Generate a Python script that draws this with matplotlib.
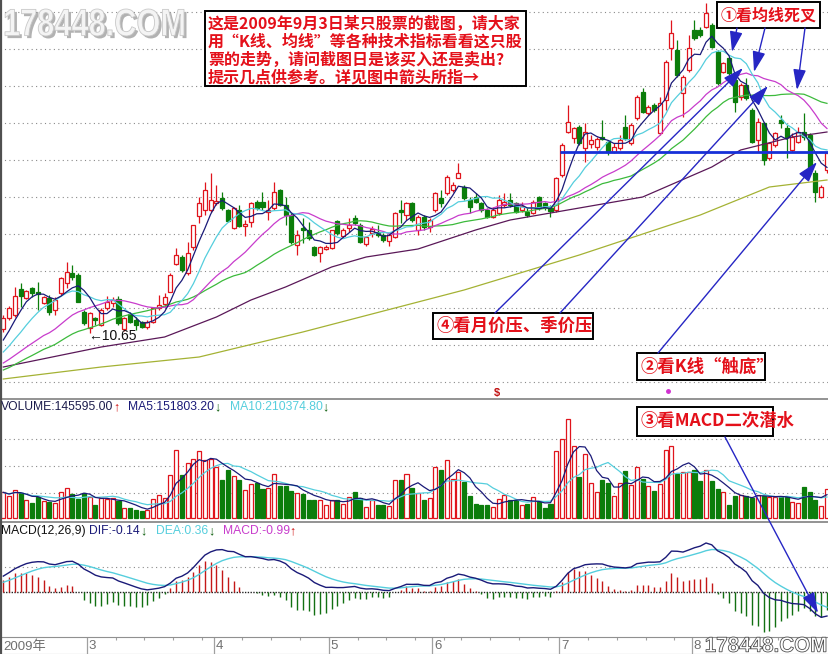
import numpy as np
import pandas as pd
import matplotlib
matplotlib.use('Agg')
import matplotlib.pyplot as plt
from matplotlib.patches import Rectangle, FancyArrowPatch, PathPatch
from matplotlib.lines import Line2D
from matplotlib.textpath import TextPath
from matplotlib.font_manager import FontProperties
from matplotlib.transforms import Affine2D

plt.rcParams['font.family'] = ['Liberation Sans', 'Noto Sans CJK SC', 'DejaVu Sans']

# closes before the window (only used to seed the averages / MACD)
prev_close = [8.2, 8.0, 7.9, 8.1, 8.3, 8.0, 7.9, 8.2, 8.3, 8.1,
              8.3, 8.5, 8.4, 8.6, 8.8, 8.7, 8.6, 8.9, 8.5, 8.7,
              8.9, 9.0, 9.2, 9.1, 9.3, 9.6, 9.9, 10.1, 10.5]

opens = [10.85, 11.40, 11.55, 12.85, 12.40, 12.90, 12.70, 12.15, 12.40, 11.80,
         12.65, 13.15, 13.65, 13.55, 11.70, 10.90, 11.40, 11.05, 11.90, 12.15,
         12.35, 10.85, 11.60, 11.30, 11.20, 10.95, 11.20, 11.90, 12.10, 12.70,
         14.10, 14.45, 13.65, 14.95, 16.50, 16.80, 16.80, 17.15, 17.40, 16.80,
         15.90, 16.80, 16.00, 16.20, 17.20, 17.20, 16.70, 16.90, 17.80, 17.05,
         16.55, 15.05, 15.90, 15.80, 14.95, 14.65, 14.85, 14.90, 16.25, 15.50,
         15.90, 16.40, 16.05, 15.10, 15.65, 15.70, 15.55, 15.25, 15.45, 16.80,
         16.55, 17.15, 15.80, 16.45, 15.95, 16.80, 17.40, 17.65, 17.80, 18.40,
         17.95, 17.30, 17.45, 17.15, 16.80, 16.45, 16.65, 17.05, 17.30, 17.15,
         16.80, 16.70, 16.65, 17.45, 17.15, 16.90, 16.80, 18.55, 20.70, 20.40,
         20.95, 19.90, 20.10, 19.95, 20.45, 20.20, 19.70, 19.90, 20.95, 20.15,
         21.40, 22.70, 21.65, 22.05, 20.65, 22.30, 24.90, 24.80, 22.65, 23.80,
         25.80, 25.80, 25.95, 26.05, 24.70, 23.70, 24.40, 23.30, 22.45, 23.05,
         21.80, 20.30, 21.15, 19.40, 20.05, 21.30, 20.90, 19.80, 20.20, 20.70,
         20.55, 18.65, 17.45, 18.80]

highs = [11.55, 12.00, 12.95, 13.15, 12.80, 12.95, 13.20, 12.50, 12.55, 12.45,
         13.45, 14.20, 14.05, 13.65, 11.80, 11.70, 11.45, 11.90, 12.50, 12.45,
         12.50, 11.45, 11.70, 11.45, 11.25, 11.30, 11.95, 12.55, 12.65, 13.65,
         14.90, 14.55, 15.20, 16.05, 17.45, 18.20, 18.65, 18.05, 17.70, 16.85,
         16.95, 17.05, 16.30, 17.20, 17.30, 17.70, 17.30, 18.20, 17.85, 17.45,
         16.65, 15.80, 16.40, 16.20, 15.00, 15.00, 15.05, 15.80, 16.30, 15.90,
         16.40, 16.55, 16.15, 15.50, 16.00, 16.05, 15.65, 15.65, 16.70, 17.30,
         17.20, 17.20, 16.55, 16.55, 16.40, 17.70, 17.80, 18.55, 18.20, 19.15,
         18.05, 17.45, 17.65, 17.20, 16.90, 16.95, 17.55, 17.65, 17.65, 17.20,
         17.20, 16.90, 17.30, 17.50, 17.20, 17.05, 18.45, 20.15, 22.05, 20.95,
         21.05, 21.15, 20.55, 20.45, 21.30, 20.30, 20.15, 20.55, 21.55, 21.15,
         22.55, 22.90, 22.05, 22.15, 22.45, 24.30, 26.30, 25.30, 23.55, 25.55,
         26.30, 25.95, 27.15, 26.15, 24.80, 24.20, 24.45, 23.40, 23.15, 23.40,
         21.90, 21.40, 21.20, 20.20, 20.70, 21.55, 21.05, 20.65, 20.95, 21.65,
         20.65, 18.80, 18.05, 19.70]

lows = [10.70, 11.30, 11.45, 11.95, 12.35, 12.45, 11.80, 12.10, 11.55, 11.55,
        12.55, 12.90, 13.30, 12.20, 11.05, 10.65, 11.05, 11.00, 11.80, 11.95,
        11.05, 10.75, 11.15, 10.80, 10.90, 10.85, 11.15, 11.80, 11.95, 12.70,
        14.05, 13.70, 13.55, 14.80, 16.15, 16.55, 16.70, 17.05, 16.80, 16.20,
        15.85, 15.95, 15.50, 15.95, 16.80, 16.80, 16.30, 16.80, 17.00, 16.05,
        15.10, 14.55, 15.15, 15.30, 14.50, 14.20, 14.80, 14.85, 15.55, 15.40,
        15.70, 16.05, 15.15, 15.00, 15.45, 15.45, 15.20, 15.00, 15.40, 16.15,
        16.30, 16.20, 15.55, 15.80, 15.70, 16.70, 16.95, 17.55, 17.70, 18.40,
        17.30, 16.65, 17.15, 16.70, 16.40, 16.40, 16.55, 16.95, 16.95, 16.65,
        16.70, 16.45, 16.60, 16.80, 16.80, 16.45, 16.70, 18.45, 20.65, 20.15,
        20.05, 19.20, 19.90, 19.80, 20.30, 19.55, 19.65, 19.80, 20.30, 20.05,
        21.30, 21.65, 21.55, 21.70, 20.55, 21.80, 24.30, 23.45, 21.45, 23.70,
        25.30, 25.45, 25.90, 24.90, 23.05, 23.65, 23.55, 21.70, 22.30, 22.30,
        20.15, 19.70, 19.05, 19.30, 19.95, 20.90, 19.40, 19.70, 20.15, 20.30,
        18.80, 17.20, 17.40, 18.65]

closes = [11.40, 11.90, 12.50, 12.50, 12.75, 12.65, 12.60, 12.45, 11.70, 12.30,
          13.40, 13.70, 13.45, 12.20, 11.15, 11.65, 11.30, 11.80, 12.20, 12.30,
          11.15, 11.40, 11.20, 11.05, 10.95, 11.20, 11.90, 12.05, 12.45, 13.55,
          14.55, 13.80, 14.65, 16.05, 17.15, 17.80, 17.30, 17.25, 16.90, 16.25,
          16.90, 16.00, 16.10, 17.15, 16.90, 16.95, 16.80, 17.70, 17.05, 16.55,
          15.20, 15.55, 15.80, 15.40, 14.55, 14.95, 14.95, 15.80, 15.65, 15.80,
          16.05, 16.15, 15.20, 15.45, 15.85, 15.55, 15.30, 15.55, 16.65, 16.70,
          17.15, 16.30, 16.45, 15.95, 16.30, 17.65, 17.15, 18.45, 18.05, 18.65,
          17.40, 16.95, 17.20, 16.80, 16.45, 16.80, 17.30, 17.20, 17.05, 16.70,
          17.00, 16.55, 17.20, 16.90, 16.95, 16.75, 18.40, 20.05, 21.20, 20.90,
          20.15, 20.70, 20.30, 20.35, 20.35, 19.70, 19.95, 20.30, 20.40, 21.05,
          22.45, 21.70, 21.95, 21.80, 22.15, 24.20, 25.65, 23.55, 23.45, 24.90,
          25.40, 25.55, 26.65, 24.95, 23.15, 24.15, 23.65, 22.20, 23.05, 22.40,
          20.20, 21.20, 19.30, 20.15, 20.65, 21.15, 20.45, 20.45, 20.70, 20.45,
          18.90, 17.70, 17.95, 19.65]

# volume, thousand shares
volume = [128, 112, 142, 125, 88, 75, 105, 83, 78, 75,
          128, 150, 122, 95, 125, 105, 67, 100, 95, 100,
          83, 50, 50, 42, 37, 42, 95, 117, 100, 217,
          338, 217, 275, 295, 333, 292, 295, 255, 192, 238,
          208, 192, 142, 172, 175, 145, 150, 222, 162, 162,
          133, 125, 122, 92, 92, 88, 67, 92, 88, 72,
          105, 128, 100, 55, 92, 67, 67, 62, 192, 192,
          222, 150, 125, 88, 100, 253, 238, 292, 197, 228,
          178, 108, 72, 67, 67, 55, 95, 117, 92, 88,
          67, 72, 105, 83, 50, 72, 333, 395, 495, 358,
          205, 322, 175, 128, 188, 175, 108, 175, 233, 167,
          255, 195, 158, 133, 172, 338, 362, 222, 228, 228,
          238, 183, 238, 183, 145, 128, 67, 112, 117, 112,
          100, 117, 108, 105, 105, 105, 105, 78, 75, 155,
          128, 92, 62, 146]

# long averages (bar index, price)
ma60_idx = [0, 17, 28, 37, 43, 49, 57, 63, 72, 82, 88, 95, 103, 111, 117, 123, 128, 137, 143]
ma60_val = [8.95, 9.95, 10.45, 11.45, 12.30, 12.95, 13.95, 14.45, 14.85, 15.80, 16.30,
            16.65, 17.05, 17.45, 18.20, 18.95, 19.80, 20.45, 20.70]
ma120_idx = [0, 17, 34, 52, 72, 80, 100, 121, 133, 143]
ma120_val = [8.35, 8.95, 9.45, 10.70, 12.20, 12.80, 14.55, 16.55, 17.95, 18.30]

support_level = 19.70
month_start = [15, 37, 57, 75, 97, 120]
month_label = ['3', '4', '5', '6', '7', '8']
price_grid = [26.7, 24.85, 23.0, 21.15, 19.3, 17.45, 15.6, 13.75, 11.9, 10.05, 8.2]
vol_grid = [125, 260, 395]

W, H = 829, 654
RED = '#e0141c'
GREEN = '#0b7d0b'
NAVY = '#1a1a78'
CYAN = '#55cedd'
MAGENTA = '#c83ccc'
LGREEN = '#3cba3c'
DPURPLE = '#5a1858'
OLIVE = '#a4b234'
GRID = dict(color='#8a8a8a', lw=0.8, ls=(0, (1, 3)))

o = np.array(opens); h = np.array(highs); l = np.array(lows); c = np.array(closes)
v = np.array(volume, dtype=float)
n = len(c)
idx = np.arange(n)
up = c >= o

full = pd.Series(prev_close + closes)
k0 = len(prev_close)
ma = {p: full.rolling(p, min_periods=1).mean().values[k0:] for p in (5, 10, 20, 30)}
ema12 = full.ewm(span=12, adjust=False).mean()
ema26 = full.ewm(span=26, adjust=False).mean()
dif_all = ema12 - ema26
dea_all = dif_all.ewm(span=9, adjust=False).mean()
dif = dif_all.values[k0:]
dea = dea_all.values[k0:]
hist = 2 * (dif - dea)

vs = pd.Series(v)
vma5 = vs.rolling(5, min_periods=1).mean()
vma10 = vs.rolling(10, min_periods=1).mean()

xlim = ((0 - 3.3) / 5.76, (W - 3.3) / 5.76)


def fx(x):
    return x / W


def fy(y):
    return 1 - y / H


def panel(y0, y1):
    ax = fig.add_axes([0, fy(y1), 1, (y1 - y0) / H])
    ax.set_xlim(*xlim)
    ax.set_xticks([])
    ax.set_yticks([])
    for s in ax.spines.values():
        s.set_visible(False)
    return ax


fig = plt.figure(figsize=(W / 100, H / 100), dpi=100)
fig.patch.set_facecolor('white')

# ---------------- main price panel
ax = panel(0, 399)
ax.set_ylim(27.3 - 399 / 20, 27.3)
for g in price_grid:
    ax.axhline(g, **GRID, zorder=0)

bl = np.minimum(o, c)
bh = np.maximum(o, c)
bw = 0.7
ax.vlines(idx[up], bh[up], h[up], color=RED, lw=0.9, zorder=2)
ax.vlines(idx[up], l[up], bl[up], color=RED, lw=0.9, zorder=2)
ax.bar(idx[up], np.maximum(bh[up] - bl[up], 0.02), bw, bottom=bl[up],
       facecolor='white', edgecolor=RED, linewidth=0.9, zorder=3)
ax.vlines(idx[~up], l[~up], h[~up], color=GREEN, lw=0.9, zorder=2)
ax.bar(idx[~up], np.maximum(bh[~up] - bl[~up], 0.02), bw, bottom=bl[~up],
       color=GREEN, edgecolor=GREEN, linewidth=0.9, zorder=3)

ax.plot(ma120_idx, ma120_val, color=OLIVE, lw=0.9, zorder=4)
ax.plot(ma60_idx, ma60_val, color=DPURPLE, lw=0.9, zorder=4)
ax.plot(idx, ma[30], color=LGREEN, lw=0.9, zorder=4)
ax.plot(idx, ma[20], color=MAGENTA, lw=0.9, zorder=4)
ax.plot(idx, ma[10], color=CYAN, lw=0.9, zorder=4)
ax.plot(idx, ma[5], color=NAVY, lw=0.9, zorder=4)
ax.hlines(support_level, 96.6, xlim[1], color='#1630d8', lw=2, zorder=5)

# ---------------- volume panel
axv = panel(399, 522)
axv.set_ylim(-20, 595)
for g in vol_grid:
    axv.axhline(g, **GRID, zorder=0)
axv.bar(idx[up], v[up], 0.7, facecolor='white', edgecolor=RED, linewidth=0.9, zorder=2)
axv.bar(idx[~up], v[~up], 0.7, color=GREEN, edgecolor=GREEN, linewidth=0.9, zorder=2)
axv.plot(idx, vma10, color=CYAN, lw=0.9, zorder=3)
axv.plot(idx, vma5, color=NAVY, lw=0.9, zorder=3)

# ---------------- MACD panel
axm = panel(522, 637)
kk = np.max(dif) / 49.0
axm.set_ylim(-45 * kk, 70 * kk)
axm.axhline(25 * kk, **GRID, zorder=0)
axm.axhline(0, color='#202020', lw=1.0, ls=(0, (1, 1)), zorder=1)
axm.vlines(idx, 0, hist, colors=np.where(hist >= 0, '#c41818', '#127012'), lw=1.0, zorder=2)
axm.plot(idx, dea, color=CYAN, lw=1.0, zorder=3)
axm.plot(idx, dif, color=NAVY, lw=1.0, zorder=3)

# ---------------- date strip
axd = panel(637, 654)
axd.set_ylim(0, 1)
for s in ('top', 'bottom'):
    axd.spines[s].set_visible(True)
    axd.spines[s].set_color('#909090')
for m, lab in zip(month_start, month_label):
    axd.axvline(m - 0.5, color='#a0a0a0', lw=0.9)
    axd.text(m - 0.2, 0.45, lab, color='#707070', fontsize=9.5, va='center', ha='left')
    for wk in range(m + 5, m + 23, 5):
        axd.vlines(wk - 0.5, 0.8, 1.0, color='#a0a0a0', lw=0.8)
axd.text(0.0, 0.45, '2009年', color='#707070', fontsize=9.5, va='center', ha='left',
         family=['Liberation Sans', 'Noto Sans CJK SC'])

# panel separators and left border
for yy in (399, 522):
    fig.add_artist(Line2D([0, 1], [fy(yy), fy(yy)], color='#808080', lw=1.2))
fig.add_artist(Line2D([fx(1), fx(1)], [0, 1], color='#505050', lw=1.6))

# ---------------- indicator captions
def caption(x, y, s, color, size=8.7):
    fig.text(fx(x), fy(y), s, color=color, fontsize=size, va='center', ha='left')

caption(1, 407, 'VOLUME:145595.00', '#1c1c4c')
caption(113, 407, '↑', '#d01010', 9)
caption(128, 407, 'MA5:151803.20', NAVY)
caption(214, 407, '↓', '#106010', 9)
caption(230, 407, 'MA10:210374.80', CYAN)
caption(322, 407, '↓', '#106010', 9)
caption(1, 531, 'MACD(12,26,9)', '#101010')
caption(89, 531, 'DIF:-0.14', NAVY)
caption(140, 531, '↓', '#106010', 9)
caption(156, 531, 'DEA:0.36', CYAN)
caption(208, 531, '↓', '#106010', 9)
caption(223, 531, 'MACD:-0.99', MAGENTA)
caption(289, 531, '↑', '#d01010', 9)

fig.text(fx(88), fy(336), '←10.65', color='#101010', fontsize=10, va='center', ha='left')
fig.text(fx(497), fy(393), '$', color='#c01010', fontsize=8, fontweight='bold',
         va='center', ha='center')
fig.add_artist(Line2D([fx(668)], [fy(391)], marker='o', ms=2.5, color='#d030d0'))

# ---------------- annotation boxes
CJK = ['Noto Sans CJK SC', 'DejaVu Sans']
TXT_RED = '#e4101a'


def box(x0, y0, x1, y1):
    fig.add_artist(Rectangle((fx(x0), fy(y1)), (x1 - x0) / W, (y1 - y0) / H,
                             transform=fig.transFigure, facecolor='white',
                             edgecolor='black', lw=1.4, zorder=5))


box(205, 11, 526, 86)
lines = ['这是2009年9月3日某只股票的截图，请大家',
         '用“K线、均线”等各种技术指标看看这只股',
         '票的走势，请问截图日是该买入还是卖出?',
         '提示几点供参考。详见图中箭头所指→']
for s, yy in zip(lines, [24, 42, 60, 77]):
    fig.text(fx(208), fy(yy), s, color=TXT_RED, fontsize=11.5, fontweight='bold',
             family=CJK, va='center', ha='left', zorder=6)

tags = [((717, 2, 820, 28), '①看均线死叉', 11.5),
        ((433, 313, 593, 339), '④看月价压、季价压', 12.5),
        ((637, 353, 765, 380), '②看K线“触底”', 12.5),
        ((637, 407, 773, 436), '③看MACD二次潜水', 12.5)]
for (x0, y0, x1, y1), s, fs in tags:
    box(x0, y0, x1, y1)
    fig.text(fx(x0 + 4), fy((y0 + y1) / 2), s, color=TXT_RED, fontsize=fs,
             fontweight='bold', family=CJK, va='center', ha='left', zorder=6)

arrows = [((737, 28), (732, 52)), ((765, 28), (754, 72)), ((805, 28), (797, 90)),
          ((495, 313), (743, 68)), ((560, 313), (768, 86)),
          ((658, 353), (817, 162)), ((725, 437), (818, 613))]
for (x0, y0), (x1, y1) in arrows:
    fig.add_artist(FancyArrowPatch((fx(x0), fy(y0)), (fx(x1), fy(y1)),
                                   transform=fig.transFigure,
                                   arrowstyle='-|>,head_length=0.9,head_width=0.28',
                                   mutation_scale=14, color='#2626c4', lw=1.0,
                                   shrinkA=0, shrinkB=0, zorder=6))


# ---------------- watermarks (text outlines squeezed into their boxes)
def watermark(s, x0, y0, x1, y1, face, edge, shadow=None):
    tp = TextPath((0, 0), s, size=100,
                  prop=FontProperties(family='Liberation Sans', weight='bold'))
    ext = tp.get_extents()
    sx = (x1 - x0) / ext.width
    sy = (y1 - y0) / ext.height
    base = Affine2D().translate(-ext.x0, -ext.y0).scale(sx / W, sy / H)
    if shadow is not None:
        tr = base + Affine2D().translate((x0 + 2.5) / W, 1 - (y1 + 2.5) / H)
        fig.add_artist(PathPatch(tr.transform_path(tp), transform=fig.transFigure,
                                 facecolor=shadow, edgecolor='none', alpha=0.6, zorder=7))
    tr = base + Affine2D().translate(x0 / W, 1 - y1 / H)
    fig.add_artist(PathPatch(tr.transform_path(tp), transform=fig.transFigure,
                             facecolor=face, edgecolor=edge, lw=0.6, zorder=8))


watermark('178448.COM', 5, 9, 184, 36, '#f4f4f4', '#c8c8c8', shadow='#808080')
watermark('178448.COM', 706, 637, 826, 652, 'white', '#505050')

fig.savefig('out.png', dpi=100, facecolor='white')
